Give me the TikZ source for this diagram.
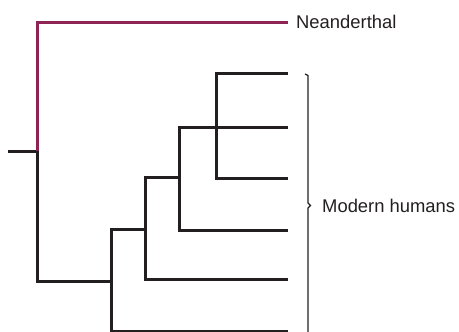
\documentclass[tikz,border=0pt]{standalone}
\usepackage{xcolor}
\usepackage{fontspec}
\setmainfont{Liberation Sans}
\usepackage{tikz}
\definecolor{branchblack}{HTML}{231F20}
\definecolor{neanderpurple}{HTML}{8E2453}
\definecolor{textgray}{HTML}{231F20}

\begin{document}
\begin{tikzpicture}[
  x=1pt,
  y=-1pt,
  branch/.style={
    draw=branchblack,
    line width=3pt
  },
  neander/.style={
    draw=neanderpurple,
    line width=3pt
  },
  bracket/.style={
    draw=branchblack,
    line width=1.2pt
  },
  taxon/.style={
    inner sep=0pt,
    text=textgray,
    font=\fontsize{18.4}{21}\selectfont
  }
]
\useasboundingbox (0,0) rectangle (459,332);

% Internal nodes
\coordinate (stub)  at (8,151);
\coordinate (root)  at (37,151);
\coordinate (nodeA) at (111,281);
\coordinate (nodeB) at (145,229);
\coordinate (nodeC) at (179,177);
\coordinate (nodeD) at (216,127);

% Leaves, top to bottom
\coordinate (neanderleaf) at (288,22);
\coordinate (leafA) at (288,73);
\coordinate (leafB) at (288,127);
\coordinate (leafC) at (288,178);
\coordinate (leafD) at (288,230);
\coordinate (leafE) at (288,279);
\coordinate (leafF) at (288,331);

% Labels
\node[taxon, anchor=base west] (neanderthal) at (296,28) {Neanderthal};
\node[taxon, anchor=base west] (modern) at (322,212) {Modern humans};

% Tree
\draw[branch] (stub) -- (root);
\draw[neander] (root) |- (neanderleaf);
\draw[branch] (root) |- (nodeA);

\draw[branch] (nodeA) |- (leafF);
\draw[branch] (nodeA) |- (nodeB);

\draw[branch] (nodeB) |- (leafE);
\draw[branch] (nodeB) |- (nodeC);

\draw[branch] (nodeC) |- (leafD);
\draw[branch] (nodeC) |- (nodeD);

\draw[branch] (nodeD) |- (leafA);
\draw[branch] (nodeD) -- (leafB);
\draw[branch] (nodeD) |- (leafC);

% Bracket round the modern humans
\draw[bracket] (305,74) -- (308,75.5) -- (308,203) -- (310.5,205.5)
  -- (308,208) -- (308,335);

\end{tikzpicture}
\end{document}
